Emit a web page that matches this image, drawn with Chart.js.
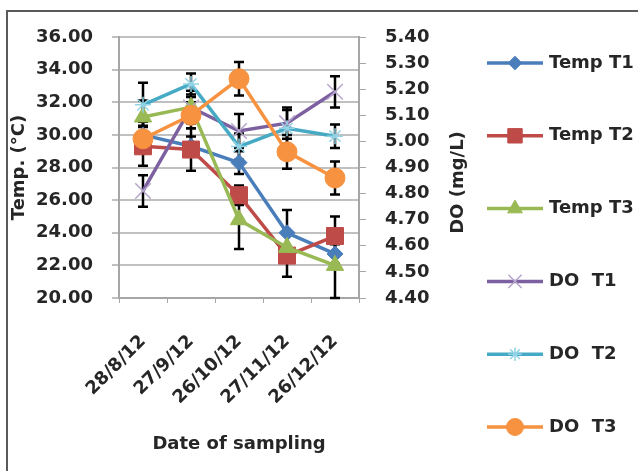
<!DOCTYPE html>
<html>
<head>
<meta charset="utf-8">
<script src="https://cdn.jsdelivr.net/npm/chart.js@4.4.0/dist/chart.umd.min.js"></script>
<style>
  html, body { margin: 0; padding: 0; background: #fff; overflow: hidden; }
  #wrap { position: relative; width: 638px; height: 471px; }
  #frame { position: absolute; left: 6px; top: 10px; width: 700px; height: 520px; border: 2px solid #5a5a5a; }
  canvas { position: absolute; left: 0; top: 0; }
</style>
</head>
<body>
<div id="wrap">
  <div id="frame"></div>
  <canvas id="temp-do-chart" width="638" height="471"></canvas>
</div>
<script>
// sampling dates
var dates = ['28/8/12', '27/9/12', '26/10/12', '27/11/12', '26/12/12'];

// water temperature (°C) per treatment
var tempT1 = [30.0, 29.3, 28.3, 24.0, 22.7];
var tempT2 = [29.3, 29.1, 26.3, 22.6, 23.8];
var tempT3 = [31.1, 31.7, 24.8, 23.1, 22.0];

// dissolved oxygen (mg/L) per treatment
var doT1 = [4.81, 5.13, 5.04, 5.07, 5.19];
var doT2 = [5.14, 5.22, 4.98, 5.05, 5.02];
var doT3 = [5.01, 5.10, 5.24, 4.96, 4.86];

// error bars (+/-)
var tempT1Err = [0.8, 0.6, 0.7, 1.4, 0.6];
var tempT2Err = [1.2, 1.3, 0.6, 1.3, 1.2];
var tempT3Err = [1.0, 1.0, 1.8, 0.8, 2.0];
var doT1Err = [0.06, 0.04, 0.065, 0.06, 0.06];
var doT2Err = [0.085, 0.04, 0.05, 0.07, 0.045];
var doT3Err = [0.05, 0.05, 0.064, 0.065, 0.063];

var tempTicks = [20, 36, 2];
var doTicks = [4.4, 5.4, 0.1];

Chart.defaults.font.family = "'DejaVu Sans', sans-serif";
Chart.defaults.font.size = 18;
Chart.defaults.font.weight = 'bold';
Chart.defaults.color = '#262626';

function series(label, values, errors, color, style, radius, axis, order, markerEdge) {
    return {
        label: label,
        data: values,
        errors: errors,
        yAxisID: axis,
        order: order,
        borderColor: color,
        backgroundColor: color,
        borderWidth: 3.5,
        tension: 0,
        pointStyle: style,
        pointRadius: radius,
        pointBackgroundColor: color,
        pointBorderColor: markerEdge || color,
        pointBorderWidth: markerEdge ? 1.5 : 1
    };
}

var errorBars = {
    id: 'errorBars',
    beforeDatasetsDraw: function (chart) {
        var ctx = chart.ctx;
        ctx.save();
        ctx.strokeStyle = '#000';
        ctx.lineWidth = 2.5;
        chart.data.datasets.forEach(function (ds, i) {
            var meta = chart.getDatasetMeta(i);
            var scale = chart.scales[ds.yAxisID];
            meta.data.forEach(function (pt, j) {
                var top = scale.getPixelForValue(ds.data[j] + ds.errors[j]);
                var bot = scale.getPixelForValue(ds.data[j] - ds.errors[j]);
                ctx.beginPath();
                ctx.moveTo(pt.x, top); ctx.lineTo(pt.x, bot);
                ctx.moveTo(pt.x - 5, top); ctx.lineTo(pt.x + 5, top);
                ctx.moveTo(pt.x - 5, bot); ctx.lineTo(pt.x + 5, bot);
                ctx.stroke();
            });
        });
        ctx.restore();
    }
};

// right axis title reads bottom-to-top, like the left one
var doTitle = {
    id: 'doTitle',
    afterDraw: function (chart) {
        var ctx = chart.ctx;
        var area = chart.chartArea;
        ctx.save();
        ctx.translate(chart.scales.yDO.right - 11, (area.top + area.bottom) / 2 + 15);
        ctx.rotate(-Math.PI / 2);
        ctx.fillStyle = '#262626';
        ctx.font = 'bold 18px "DejaVu Sans"';
        ctx.textAlign = 'center';
        ctx.textBaseline = 'middle';
        ctx.fillText('DO (mg/L)', 0, 0);
        ctx.restore();
    }
};

// legend on the right: short line with the marker in the middle
var sideLegend = {
    id: 'sideLegend',
    afterDraw: function (chart) {
        var ctx = chart.ctx;
        var x0 = chart.width - 151, x1 = chart.width - 95;
        chart.data.datasets.forEach(function (ds, i) {
            var y = 63 + i * 72.8;
            ctx.save();
            ctx.strokeStyle = ds.borderColor;
            ctx.lineWidth = ds.borderWidth;
            ctx.beginPath();
            ctx.moveTo(x0, y); ctx.lineTo(x1, y);
            ctx.stroke();
            ctx.fillStyle = ds.pointBackgroundColor;
            ctx.strokeStyle = ds.pointBorderColor;
            ctx.lineWidth = ds.pointBorderWidth;
            Chart.helpers.drawPoint(ctx, {
                pointStyle: ds.pointStyle, radius: ds.pointRadius * 0.85, rotation: 0, borderWidth: ds.pointBorderWidth
            }, (x0 + x1) / 2, y);
            ctx.fillStyle = '#262626';
            ctx.font = 'bold 18px "DejaVu Sans"';
            ctx.textBaseline = 'middle';
            ctx.fillText(ds.label, x1 + 6, y);
            ctx.restore();
        });
    }
};

var chart = new Chart(document.getElementById('temp-do-chart'), {
    type: 'line',
    data: {
        labels: dates,
        datasets: [
            series('Temp T1', tempT1, tempT1Err, '#4a7ebb', 'rectRot', 8, 'yTemp', 6),
            series('Temp T2', tempT2, tempT2Err, '#be4b48', 'rect', 12, 'yTemp', 5),
            series('Temp T3', tempT3, tempT3Err, '#98b954', 'triangle', 10, 'yTemp', 4),
            series('DO  T1', doT1, doT1Err, '#7d60a0', 'crossRot', 11, 'yDO', 3, '#b6a5cc'),
            series('DO  T2', doT2, doT2Err, '#46aac5', 'star', 8, 'yDO', 2, '#93d3e6'),
            series('DO  T3', doT3, doT3Err, '#f69240', 'circle', 10, 'yDO', 1)
        ]
    },
    options: {
        responsive: false,
        animation: false,
        layout: { padding: { top: 37, right: 169, bottom: 0, left: 0 } },
        plugins: {
            legend: { display: false },
            tooltip: { enabled: false }
        },
        scales: {
            x: {
                offset: true,
                grid: { offset: true, drawOnChartArea: false, tickLength: 5, color: '#a6a6a6' },
                border: { color: '#a6a6a6', width: 2 },
                ticks: { minRotation: 45, maxRotation: 45, padding: 28 },
                title: { display: true, text: 'Date of sampling', padding: { top: 0, bottom: 16 } },
                afterFit: function (s) { s.height = 173; }
            },
            yTemp: {
                position: 'left',
                min: tempTicks[0],
                max: tempTicks[1],
                ticks: { stepSize: tempTicks[2], padding: 19, callback: function (v) { return v.toFixed(2); } },
                grid: { color: '#c0c0c0', lineWidth: 2, tickLength: 7 },
                border: { color: '#a6a6a6', width: 2 },
                title: { display: true, text: 'Temp. (°C)', padding: { top: 9, bottom: 0 } },
                afterFit: function (s) { s.width = 119; }
            },
            yDO: {
                position: 'right',
                min: doTicks[0],
                max: doTicks[1],
                ticks: { stepSize: doTicks[2], padding: 19, callback: function (v) { return v.toFixed(2); } },
                grid: { drawOnChartArea: false, color: '#a6a6a6', tickLength: 7 },
                border: { color: '#a6a6a6', width: 2 },
                afterFit: function (s) { s.width = 110; }
            }
        }
    },
    plugins: [errorBars, doTitle, sideLegend]
});
</script>
</body>
</html>
